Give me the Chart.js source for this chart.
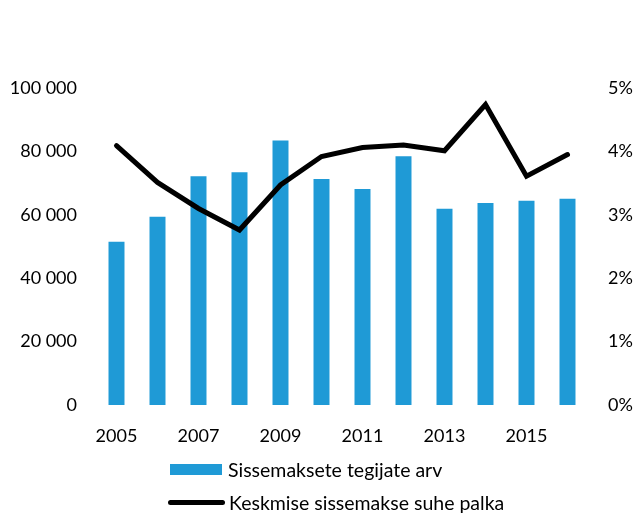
<!DOCTYPE html>
<html>
<head>
<meta charset="utf-8">
<script src="https://cdn.jsdelivr.net/npm/chart.js@4"></script>
<style>
  html, body { margin: 0; padding: 0; background: #fff; }
  #wrap { position: relative; width: 635px; height: 518px; }
  #legend { position: absolute; left: 168px; top: 453px; font-family: Lato, sans-serif; font-size: 19.5px; color: #000; }
  .item { display: flex; align-items: center; height: 33px; }
  .swatch { margin-right: 4px; }
</style>
</head>
<body>
<div id="wrap">
  <canvas id="chart" width="635" height="518"></canvas>
  <div id="legend"></div>
</div>
<script>
// andmed loetud jooniselt
const aastad = ['2005', '2006', '2007', '2008', '2009', '2010', '2011', '2012', '2013', '2014', '2015', '2016'];
const tegijateArv = [51500, 59400, 72200, 73400, 83400, 71300, 68100, 78500, 61900, 63700, 64400, 65100];
const suhePalka = [4.09, 3.51, 3.10, 2.76, 3.47, 3.92, 4.06, 4.10, 4.01, 4.74, 3.61, 3.95];
const vasakTicks = [0, 20000, 40000, 60000, 80000, 100000];
const paremTicks = [0, 1, 2, 3, 4, 5];

const sinine = '#1f9ad6';
const font = { family: 'Lato, sans-serif', size: 18 };

const chart = new Chart(document.getElementById('chart').getContext('2d'), {
    type: 'bar',
    data: {
        labels: aastad,
        datasets: [{
            type: 'line',
            label: 'Keskmise sissemakse suhe palka',
            data: suhePalka,
            yAxisID: 'y2',
            borderColor: '#000',
            borderWidth: 5,
            pointRadius: 0,
            tension: 0,
            borderCapStyle: 'round',
            order: 0
        }, {
            type: 'bar',
            label: 'Sissemaksete tegijate arv',
            data: tegijateArv,
            yAxisID: 'y',
            backgroundColor: sinine,
            barPercentage: 0.39,
            categoryPercentage: 1,
            order: 1
        }]
    },
    options: {
        responsive: false,
        animation: false,
        layout: { padding: { top: 88, bottom: 63, left: 0, right: 0 } },
        plugins: { legend: { display: false }, tooltip: { enabled: false } },
        scales: {
            x: {
                grid: { display: false, drawTicks: false },
                border: { display: false },
                ticks: {
                    color: '#000', font: font, padding: 20, autoSkip: false, maxRotation: 0,
                    callback: (v, i) => i % 2 === 0 ? aastad[i] : ''
                },
                afterFit: s => { s.height = 50; }
            },
            y: {
                position: 'left',
                min: 0, max: 100000,
                grid: { display: false, drawTicks: false },
                border: { display: false },
                afterBuildTicks: s => { s.ticks = vasakTicks.map(v => ({ value: v })); },
                ticks: {
                    color: '#000', font: font, padding: 19,
                    callback: v => v === 0 ? '0' : String(v).replace(/\B(?=(\d{3})+(?!\d))/g, ' ')
                },
                afterFit: s => { s.width = 96; }
            },
            y2: {
                position: 'right',
                min: 0, max: 5,
                grid: { display: false, drawTicks: false },
                border: { display: false },
                afterBuildTicks: s => { s.ticks = paremTicks.map(v => ({ value: v })); },
                ticks: { color: '#000', font: font, padding: 20, callback: v => v + '%' },
                afterFit: s => { s.width = 47; }
            }
        }
    }
});

// legend alla, üksteise alla nagu originaalis
const legend = document.getElementById('legend');
[1, 0].forEach(i => {
    const ds = chart.data.datasets[i];
    const item = document.createElement('div');
    item.className = 'item';
    const sw = document.createElement('span');
    sw.className = 'swatch';
    if (ds.type === 'bar') {
        sw.style.cssText = 'display:inline-block;width:52px;height:11px;margin-left:2px;margin-right:6px;background:' + ds.backgroundColor;
    } else {
        sw.style.cssText = 'display:inline-block;width:57px;height:5px;border-radius:3px;background:' + ds.borderColor;
    }
    item.appendChild(sw);
    item.appendChild(document.createTextNode(ds.label));
    legend.appendChild(item);
});
</script>
</body>
</html>
